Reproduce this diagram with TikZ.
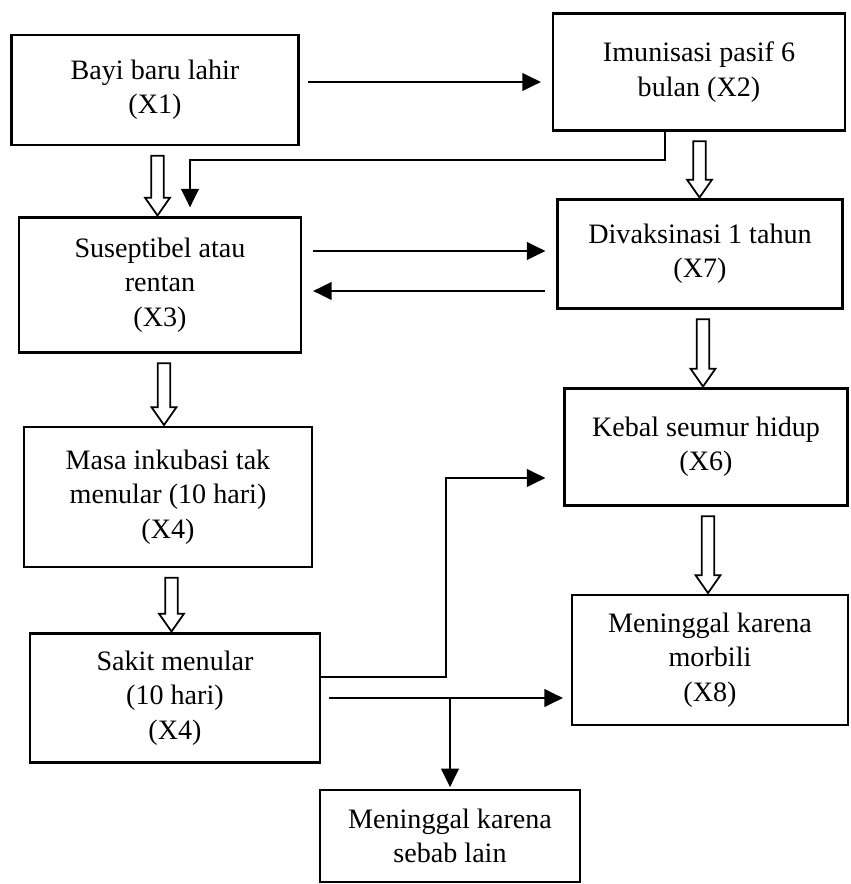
\documentclass[tikz,border=0pt]{standalone}
\usepackage{fontspec}
\setmainfont{Liberation Serif}
\usetikzlibrary{shapes.arrows,arrows.meta,calc}

\tikzset{
  box/.style={draw, line width=1.3pt, align=center, inner sep=0pt,
    font=\fontsize{16}{19.5}\selectfont},
  arr/.style={line width=1.1pt, -{Triangle[length=10.5pt,width=10pt]}},
  hollow/.style={single arrow, draw, line width=1pt, inner sep=0.1cm,
    minimum width=0.5cm, single arrow head extend=0.12cm,
    single arrow tip angle=70, rotate=-90}
}

\begin{document}
\begin{tikzpicture}[x=0.02cm, y=-0.02cm]
\useasboundingbox (0,0) rectangle (850,884);

% left column
\node[box, minimum width=5.74cm, minimum height=2.2cm] (x1) at (155,90) {Bayi baru lahir\\(X1)};
\node[box, minimum width=5.64cm, minimum height=2.7cm] (x3) at (160,285) {Suseptibel atau\\rentan\\(X3)};
\node[box, minimum width=5.76cm, minimum height=2.8cm] (x4) at (168,497) {Masa inkubasi tak\\menular (10 hari)\\(X4)};
\node[box, minimum width=5.8cm, minimum height=2.58cm] (x5) at (175,698) {Sakit menular\\(10 hari)\\(X4)};

% right column
\node[box, minimum width=5.84cm, minimum height=2.34cm] (x2) at (699,72) {Imunisasi pasif 6\\bulan (X2)};
\node[box, minimum width=5.7cm, minimum height=2.18cm] (x7) at (700,254) {Divaksinasi 1 tahun\\(X7)};
\node[box, minimum width=5.66cm, minimum height=2.34cm] (x6) at (706,447) {Kebal seumur hidup\\(X6)};
\node[box, minimum width=5.52cm, minimum height=2.6cm] (x8) at (710,660) {Meninggal karena\\morbili\\(X8)};

% bottom
\node[box, minimum width=5.2cm, minimum height=1.84cm] (x9) at (450,836) {Meninggal karena\\sebab lain};

% hollow arrows
\foreach \a/\b in {x1/x3,x2/x7,x3/x4,x7/x6,x4/x5,x6/x8}
  \path let \p1=(\a.south), \p2=(\b.north), \n1={\y1-\y2-6pt} in
    node[hollow, minimum height=\n1] (h\a) at ($(\p1)!.5!(\p2)$) {};

% filled arrows
\draw[arr, shorten <=0.16cm, shorten >=0.22cm] ([yshift=0.16cm]x1.east) -- ([yshift=0.16cm]x1.east -| x2.west);
\draw[arr] ([xshift=-0.68cm]x2.south) -- ++(0,-0.56cm) -| ([xshift=0.6cm,yshift=0.18cm]x3.north);
\draw[arr, shorten <=0.22cm, shorten >=0.22cm] ([yshift=0.68cm]x3.east) -- ([yshift=0.68cm]x3.east -| x7.west);
\draw[arr, shorten <=0.22cm, shorten >=0.22cm] ([yshift=-0.12cm]x3.east -| x7.west) -- ([yshift=-0.12cm]x3.east);
\draw[arr, shorten >=0.36cm] ([yshift=0.42cm]x5.east) -- ++(2.5cm,0) |- ([yshift=-0.62cm]x6.west);
\draw[arr, shorten <=0.16cm, shorten >=0.16cm] (x5.east) -- (x5.east -| x8.west);
\coordinate (br) at (x5.east -| x9.north);
\draw[arr, shorten >=1pt] (br) -- (x9.north);
\end{tikzpicture}
\end{document}
